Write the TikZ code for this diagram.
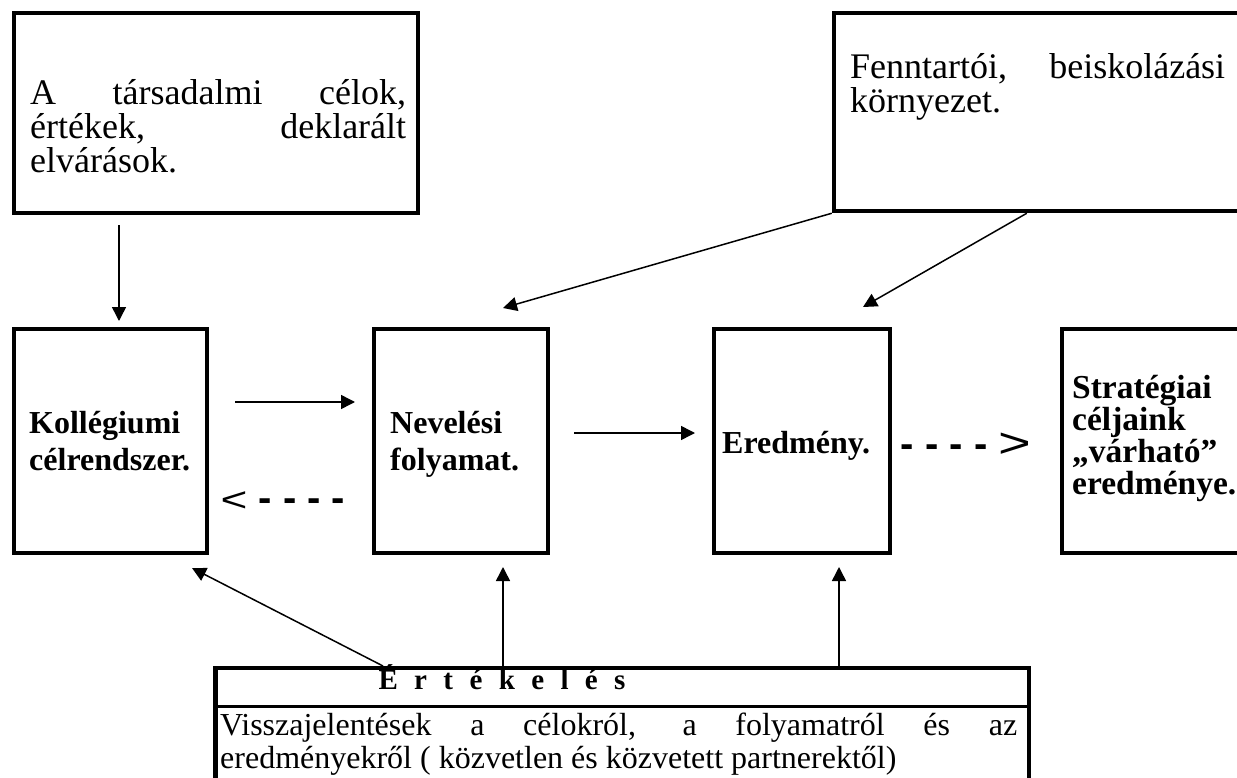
\documentclass[tikz,border=0pt]{standalone}
\usepackage{fontspec}
\setmainfont{Liberation Serif}
\setsansfont{Liberation Sans}
\usetikzlibrary{arrows.meta}

\tikzset{
  box/.style={draw, line width=4.5pt, inner sep=0pt},
  conn/.style={line width=1.5pt, -{Triangle[length=14pt,width=14pt]}},
  bodytext/.style={font=\fontsize{36}{34}\selectfont, align=left, inner sep=0pt, anchor=base west},
  boldtext/.style={font=\fontsize{32}{36.5}\selectfont\bfseries, align=left, inner sep=0pt, anchor=base west},
  hint/.style={font=\sffamily\fontsize{40}{40}\selectfont, inner sep=0pt},
}

\begin{document}
\begin{tikzpicture}[x=1pt,y=-1pt]
  \useasboundingbox (0,0) rectangle (1237,778);
  \clip (0,0) rectangle (1237,778);
  % Upper boxes (text nodes sit on the baseline of their last line)
  \node[box, minimum width=404, minimum height=200] (tl) at (216,113) {};
  \node[bodytext] (tlText) at (30,173)
    {\makebox[376pt][s]{A társadalmi célok,}\\\makebox[376pt][s]{értékek, deklarált}\\elvárások.};
  \node[box, minimum width=426, minimum height=198] (tr) at (1047,112) {};
  \node[bodytext] (trText) at (850,113)
    {\makebox[375pt][s]{Fenntartói, beiskolázási}\\környezet.};
  % Middle row
  \node[box, minimum width=193, minimum height=224] (kol) at (110.5,441) {};
  \node[boldtext] (kolText) at (29,470) {Kollégiumi\\célrendszer.};
  \node[box, minimum width=174, minimum height=224] (nev) at (461,441) {};
  \node[boldtext] (nevText) at (390,470) {Nevelési\\folyamat.};
  \node[box, minimum width=176, minimum height=224] (ered) at (802,441) {};
  \node[boldtext] (eredText) at (722,453) {Eredmény.};
  \node[box, minimum width=198, minimum height=224] (str) at (1161,441) {};
  \node[boldtext, font=\fontsize{33.5}{31.7}\selectfont\bfseries] (strText) at (1072,494)
    {Stratégiai\\céljaink\\„várható”\\eredménye.};
  % Dashed hints
  \node[hint] (back) at (283,502) {\scalebox{1.15}[0.85]{<}\textbf{ - - - -}};
  \node[hint] (fwd) at (966,445) {\textbf{- - - - }\scalebox{1.4}[1.05]{>}};
  % Evaluation box
  \node[box, minimum width=813.5, minimum height=132] (ev) at (622.25,734) {};
  \coordinate (dvL) at (215.5,706.5);
  \coordinate (dvR) at (1029,706.5);
  \draw[line width=2.5pt] (dvL) -- (dvR);
  \node[font=\fontsize{29}{30}\selectfont\bfseries, inner sep=0pt, anchor=base] (evHead) at (502,689)
    {\makebox[247pt][s]{É r t é k e l é s}};
  \node[bodytext, font=\fontsize{32}{33}\selectfont] (evText) at (220,768)
    {\makebox[797pt][s]{Visszajelentések a célokról, a folyamatról és az}\\eredményekről ( közvetlen és közvetett partnerektől)};
  % Arrow ends
  \coordinate (kolIn) at (119,321);
  \coordinate (nevIn) at (503,308);
  \coordinate (eredIn) at (863,307);
  \coordinate (kolOut) at (235,402);
  \coordinate (nevL) at (355,402);
  \coordinate (nevOut) at (574,433);
  \coordinate (eredL) at (695,433);
  \coordinate (evA) at (383,666);
  \coordinate (kolBot) at (192,568);
  \coordinate (nevBot) at (503,567);
  \coordinate (eredBot) at (839,567);
  % Connectors
  \draw[conn] (tl.south -| kolIn) ++(0,10) -- (kolIn);
  \draw[conn] (tr.south west) -- (nevIn);
  \draw[conn] (tr.south west) ++(195,0) -- (eredIn);
  \draw[conn] (kolOut) -- (nevL);
  \draw[conn] (nevOut) -- (eredL);
  \draw[conn] (evA) -- (kolBot);
  \draw[conn] (ev.north -| nevBot) -- (nevBot);
  \draw[conn] (ev.north -| eredBot) -- (eredBot);
\end{tikzpicture}
\end{document}
